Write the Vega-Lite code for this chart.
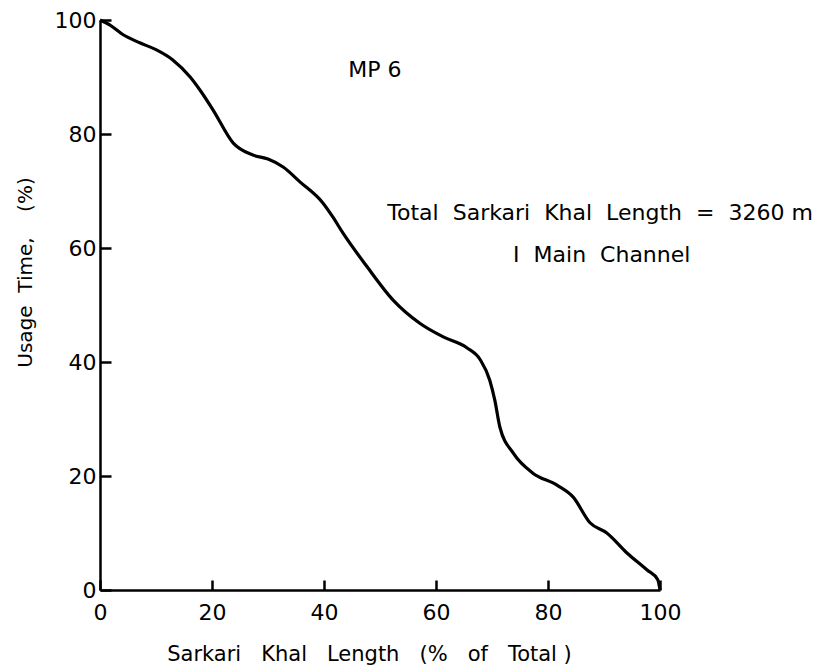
{
  "$schema": "https://vega.github.io/schema/vega-lite/v6.json",
  "width": 560,
  "height": 570,
  "autosize": "none",
  "padding": {"left": 100, "top": 20, "right": 175, "bottom": 79},
  "background": "white",
  "config": {
    "view": {"stroke": null},
    "font": "DejaVu Sans"
  },
  "datasets": {
    "curve": [
      {"length": 0, "usage": 100},
      {"length": 1.8, "usage": 99.1},
      {"length": 4, "usage": 97.5},
      {"length": 7.1, "usage": 96.0},
      {"length": 10, "usage": 94.8},
      {"length": 13.0, "usage": 93.0},
      {"length": 16.1, "usage": 90.0},
      {"length": 18, "usage": 87.5},
      {"length": 20.2, "usage": 84.2},
      {"length": 23.8, "usage": 78.4},
      {"length": 27.3, "usage": 76.3},
      {"length": 30, "usage": 75.6},
      {"length": 32.7, "usage": 74.2},
      {"length": 35.7, "usage": 71.6},
      {"length": 39.8, "usage": 67.9},
      {"length": 41.6, "usage": 65.4},
      {"length": 43.4, "usage": 62.6},
      {"length": 47.7, "usage": 56.7},
      {"length": 52.3, "usage": 50.9},
      {"length": 57.1, "usage": 46.8},
      {"length": 61.3, "usage": 44.4},
      {"length": 65.5, "usage": 42.5},
      {"length": 67.9, "usage": 40.4},
      {"length": 69.6, "usage": 36.8},
      {"length": 70.5, "usage": 33.3},
      {"length": 71.4, "usage": 28.6},
      {"length": 73.8, "usage": 24.0},
      {"length": 77.3, "usage": 20.5},
      {"length": 81.6, "usage": 18.4},
      {"length": 84.5, "usage": 16.3},
      {"length": 87.5, "usage": 11.8},
      {"length": 90.5, "usage": 10.0},
      {"length": 94.1, "usage": 6.5},
      {"length": 97.7, "usage": 3.5},
      {"length": 99.6, "usage": 1.8},
      {"length": 100, "usage": 0}
    ],
    "notes": [
      {"length": 49.1, "usage": 91.2, "label": "MP\u00a06"},
      {"length": 89.3, "usage": 66.1, "label": "Total\u00a0 Sarkari\u00a0 Khal\u00a0 Length\u00a0 =\u00a0 3260 m"},
      {"length": 89.6, "usage": 58.8, "label": "I\u00a0 Main\u00a0 Channel"}
    ]
  },
  "layer": [
    {
      "data": {"name": "curve"},
      "mark": {"type": "line", "color": "black", "strokeWidth": 3.2, "interpolate": "monotone"},
      "encoding": {
        "x": {
          "field": "length", "type": "quantitative",
          "scale": {"domain": [0, 100], "nice": false},
          "axis": {
            "title": "Sarkari\u00a0\u00a0 Khal\u00a0\u00a0 Length\u00a0\u00a0 (%\u00a0\u00a0 of\u00a0\u00a0 Total )",
            "values": [0, 20, 40, 60, 80, 100],
            "grid": false,
            "domainColor": "black", "domainWidth": 2.5,
            "ticks": true,
            "tickColor": "black", "tickWidth": 2.5, "tickSize": -10,
            "labelColor": "black", "labelFontSize": 22, "labelPadding": 22,
            "labelFlush": false,
            "titleColor": "black", "titleFontSize": 21, "titleFontWeight": "normal",
            "titleX": 269, "titleY": 64, "titleBaseline": "middle", "titleAlign": "center"
          }
        },
        "y": {
          "field": "usage", "type": "quantitative",
          "scale": {"domain": [0, 100], "nice": false},
          "axis": {
            "title": "Usage\u00a0 Time,\u00a0\u00a0\u00a0 (%)",
            "values": [0, 20, 40, 60, 80, 100],
            "grid": false,
            "domainColor": "black", "domainWidth": 2.5,
            "ticks": true,
            "tickColor": "black", "tickWidth": 2.5, "tickSize": -11,
            "labelColor": "black", "labelFontSize": 22, "labelPadding": 15,
            "labelFlush": false,
            "titleColor": "black", "titleFontSize": 20, "titleFontWeight": "normal",
            "titleX": -75, "titleY": 252, "titleAngle": 270, "titleAlign": "center", "titleBaseline": "middle"
          }
        }
      }
    },
    {
      "data": {"name": "notes"},
      "mark": {"type": "text", "color": "black", "fontSize": 22, "align": "center", "baseline": "middle"},
      "encoding": {
        "x": {"field": "length", "type": "quantitative"},
        "y": {"field": "usage", "type": "quantitative"},
        "text": {"field": "label"}
      }
    }
  ]
}
